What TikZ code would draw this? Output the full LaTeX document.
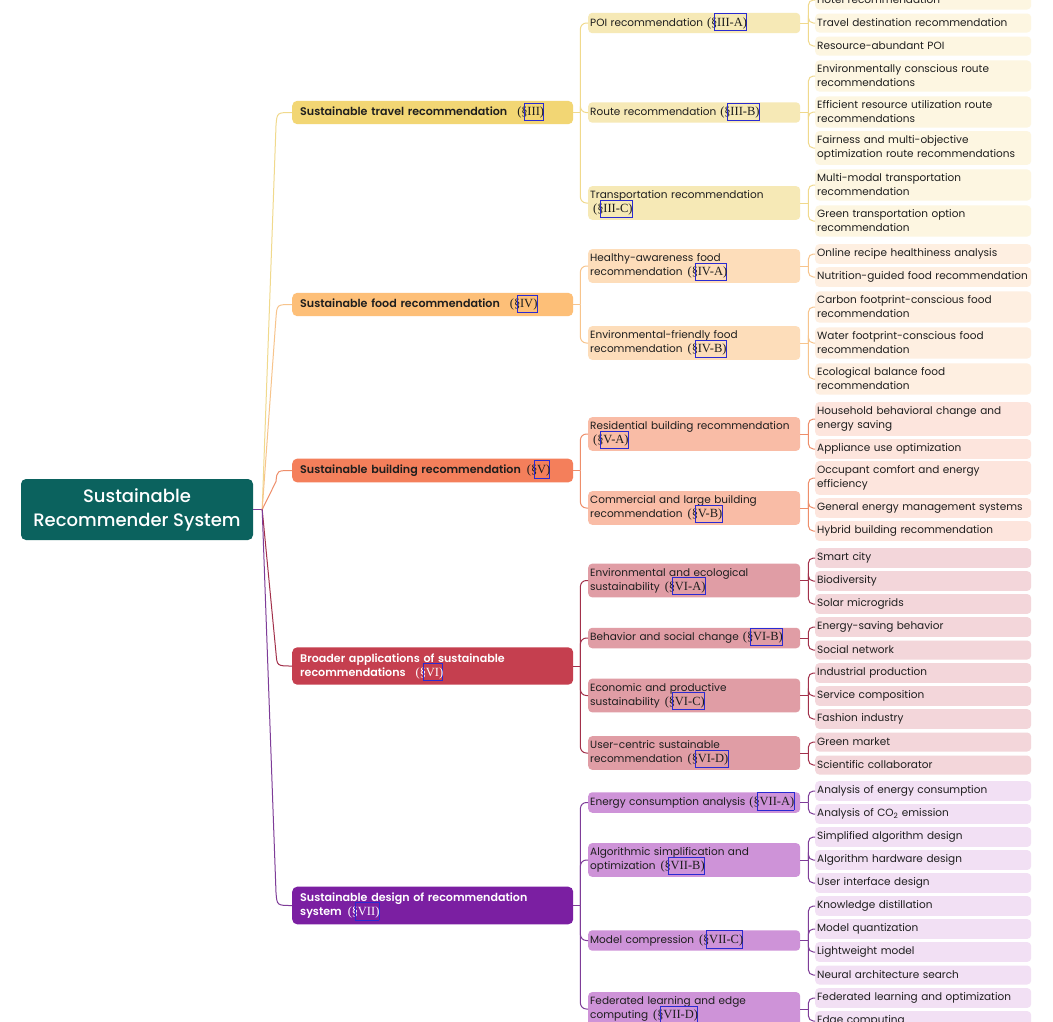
\documentclass[tikz,border=0pt]{standalone}
\usepackage{fontspec}
\usetikzlibrary{calc}
\setmainfont{Poppins}
\newfontfamily\secfont{Liberation Serif}
\IfFontExistsTF{Poppins Medium}{\newfontfamily\medfont{Poppins Medium}}{\newfontfamily\medfont{Poppins}}
\IfFontExistsTF{Poppins SemiBold}{\newfontfamily\semifont{Poppins SemiBold}}{\newfontfamily\semifont{Poppins}[FakeBold=1.5]}
\definecolor{txt}{HTML}{1E1E1E}
\definecolor{linkblue}{HTML}{2A2AD2}
\definecolor{rootc}{HTML}{0B625E}
\definecolor{travA}{HTML}{F2D674}\definecolor{travB}{HTML}{F6E9B6}\definecolor{travC}{HTML}{FDF6E1}\definecolor{travL}{HTML}{F0D98C}
\definecolor{foodA}{HTML}{FDBF78}\definecolor{foodB}{HTML}{FDDDBA}\definecolor{foodC}{HTML}{FEEFE1}\definecolor{foodL}{HTML}{F7C48C}
\definecolor{bldA}{HTML}{F47F5B}\definecolor{bldB}{HTML}{F9BCA6}\definecolor{bldC}{HTML}{FDE5DD}\definecolor{bldL}{HTML}{EE8E6A}
\definecolor{brdA}{HTML}{C53F4F}\definecolor{brdB}{HTML}{E09DA5}\definecolor{brdC}{HTML}{F3D6DA}\definecolor{brdL}{HTML}{A2304A}
\definecolor{desA}{HTML}{7B1FA2}\definecolor{desB}{HTML}{CE93D8}\definecolor{desC}{HTML}{F2E0F4}\definecolor{desL}{HTML}{7E3C98}
\newsavebox\srefbox
\newcommand\secref[1]{{\fontsize{12.5}{14}\secfont(\S\kern-0.27em%
  \sbox\srefbox{\kern0.25em#1)}%
  \textcolor{linkblue}{\smash{\rlap{\vrule width0.8pt height13pt depth5pt\kern-0.8pt\rlap{\vrule width\wd\srefbox height13pt depth-12.2pt}\rlap{\vrule width\wd\srefbox height-4.2pt depth5pt}\kern\wd\srefbox\kern-0.8pt\vrule width0.8pt height13pt depth5pt}}}%
  \usebox\srefbox}}
\newcommand\leaffont{\fontsize{10.5}{14}\selectfont}
\tikzset{
  lthree/.style={anchor=west, rounded corners=4pt, text width=212pt, inner xsep=2pt, inner ysep=4.5pt, minimum height=19pt, align=left, font=\leaffont, text=txt},
  ltwo/.style={anchor=west, rounded corners=4pt, text width=208pt, inner xsep=2pt, inner ysep=4.5pt, minimum height=19pt, align=left, font=\leaffont, text=txt},
  lone/.style={anchor=west, rounded corners=5pt, text width=265pt, inner xsep=8pt, inner ysep=6pt, minimum height=23pt, align=left, font=\semifont\fontsize{11.1}{14}\selectfont, text=txt},
  rootbox/.style={rounded corners=5pt, fill=rootc, minimum width=232pt, minimum height=61pt, align=center, text=white, font=\medfont\fontsize{18}{24}\selectfont},
  conn/.style={line width=1pt},
  br/.style={conn, rounded corners=6pt},
  bl/.style={conn, rounded corners=5pt},
}
\newcommand\rootlink[3]{\draw[conn,#1] (h0) -- ($(#2.west)+(-16,#3)$) .. controls ($(#2.west)+(-15,0)$) .. (#2.west);}
\begin{document}
\begin{tikzpicture}[x=1pt,y=-1pt]
\useasboundingbox (0,0) rectangle (1053,1021);
\clip (0,0) rectangle (1053,1021);
\fill[white] (0,0) rectangle (1053,1021);
% root
\node[rootbox] (root) at (137,509.5) {Sustainable\\Recommender System};
% level 1
\node[lone, fill=travA] (travel) at (292,112.5) {Sustainable travel recommendation\hspace{10pt}\secref{III}};
\node[lone, fill=foodA] (food) at (292,304.5) {Sustainable food recommendation\hspace{10pt}\secref{IV}};
\node[lone, fill=bldA] (building) at (292,470.5) {Sustainable building recommendation\hspace{6pt}\secref{V}};
\node[lone, fill=brdA, text=white] (broader) at (292,666) {Broader applications of sustainable\\recommendations\hspace{10pt}\secref{VI}};
\node[lone, fill=desA, text=white] (design) at (292,905.5) {Sustainable design of recommendation\\system\hspace{6pt}\secref{VII}};
% level 2
\node[ltwo, fill=travB] (poi) at (588,23) {POI recommendation\hspace{4pt}\secref{III-A}};
\node[ltwo, fill=travB] (route) at (588,112.5) {Route recommendation\hspace{4pt}\secref{III-B}};
\node[ltwo, fill=travB] (transport) at (588,203) {Transportation recommendation\\\hspace*{3pt}\secref{III-C}};
\node[ltwo, fill=foodB] (healthy) at (588,266) {Healthy-awareness food\\recommendation\hspace{5pt}\secref{IV-A}};
\node[ltwo, fill=foodB] (envfood) at (588,343) {Environmental-friendly food\\recommendation\hspace{5pt}\secref{IV-B}};
\node[ltwo, fill=bldB] (resid) at (588,434) {Residential building recommendation\\\hspace*{3pt}\secref{V-A}};
\node[ltwo, fill=bldB] (commer) at (588,508) {Commercial and large building\\recommendation\hspace{5pt}\secref{V-B}};
\node[ltwo, fill=brdB] (enveco) at (588,580.5) {Environmental and ecological\\sustainability\hspace{5pt}\secref{VI-A}};
\node[ltwo, fill=brdB] (behav) at (588,638) {Behavior and social change\hspace{4pt}\secref{VI-B}};
\node[ltwo, fill=brdB] (econ) at (588,695.5) {Economic and productive\\sustainability\hspace{5pt}\secref{VI-C}};
\node[ltwo, fill=brdB] (usercen) at (588,753) {User-centric sustainable\\recommendation\hspace{5pt}\secref{VI-D}};
\node[ltwo, fill=desB] (energy) at (588,802.5) {Energy consumption analysis\hspace{4pt}\secref{VII-A}};
\node[ltwo, fill=desB] (algo) at (588,860) {Algorithmic simplification and\\optimization\hspace{5pt}\secref{VII-B}};
\node[ltwo, fill=desB] (modelc) at (588,940.5) {Model compression\hspace{5pt}\secref{VII-C}};
\node[ltwo, fill=desB] (feder) at (588,1009) {Federated learning and edge\\computing\hspace{5pt}\secref{VII-D}};
% level 3 travel
\node[lthree, fill=travC] (t1) at (815,0) {Hotel recommendation};
\node[lthree, fill=travC] (t2) at (815,23) {Travel destination recommendation};
\node[lthree, fill=travC] (t3) at (815,46) {Resource-abundant POI};
\node[lthree, fill=travC] (t4) at (815,76) {Environmentally conscious route\\recommendations};
\node[lthree, fill=travC] (t5) at (815,112) {Efficient resource utilization route\\recommendations};
\node[lthree, fill=travC] (t6) at (815,148) {Fairness and multi-objective\\optimization route recommendations};
\node[lthree, fill=travC] (t7) at (815,185) {Multi-modal transportation\\recommendation};
\node[lthree, fill=travC] (t8) at (815,221) {Green transportation option\\recommendation};
% food
\node[lthree, fill=foodC] (f1) at (815,254) {Online recipe healthiness analysis};
\node[lthree, fill=foodC] (f2) at (815,277) {Nutrition-guided food recommendation};
\node[lthree, fill=foodC] (f3) at (815,307) {Carbon footprint-conscious food\\recommendation};
\node[lthree, fill=foodC] (f4) at (815,343) {Water footprint-conscious food\\recommendation};
\node[lthree, fill=foodC] (f5) at (815,379) {Ecological balance food\\recommendation};
% building
\node[lthree, fill=bldC] (b1) at (815,419) {Household behavioral change and\\energy saving};
\node[lthree, fill=bldC] (b2) at (815,449) {Appliance use optimization};
\node[lthree, fill=bldC] (b3) at (815,478) {Occupant comfort and energy\\efficiency};
\node[lthree, fill=bldC] (b4) at (815,508) {General energy management systems};
\node[lthree, fill=bldC] (b5) at (815,531) {Hybrid building recommendation};
% broader
\node[lthree, fill=brdC] (r1) at (815,558) {Smart city};
\node[lthree, fill=brdC] (r2) at (815,581) {Biodiversity};
\node[lthree, fill=brdC] (r3) at (815,604) {Solar microgrids};
\node[lthree, fill=brdC] (r4) at (815,627) {Energy-saving behavior};
\node[lthree, fill=brdC] (r5) at (815,650) {Social network};
\node[lthree, fill=brdC] (r6) at (815,673) {Industrial production};
\node[lthree, fill=brdC] (r7) at (815,696) {Service composition};
\node[lthree, fill=brdC] (r8) at (815,719) {Fashion industry};
\node[lthree, fill=brdC] (r9) at (815,742) {Green market};
\node[lthree, fill=brdC] (r10) at (815,765) {Scientific collaborator};
% design
\node[lthree, fill=desC] (d1) at (815,791) {Analysis of energy consumption};
\node[lthree, fill=desC] (d2) at (815,814) {Analysis of CO\textsubscript{2} emission};
\node[lthree, fill=desC] (d3) at (815,837) {Simplified algorithm design};
\node[lthree, fill=desC] (d4) at (815,860) {Algorithm hardware design};
\node[lthree, fill=desC] (d5) at (815,883) {User interface design};
\node[lthree, fill=desC] (d6) at (815,906) {Knowledge distillation};
\node[lthree, fill=desC] (d7) at (815,929) {Model quantization};
\node[lthree, fill=desC] (d8) at (815,952) {Lightweight model};
\node[lthree, fill=desC] (d9) at (815,975) {Neural architecture search};
\node[lthree, fill=desC] (d10) at (815,998) {Federated learning and optimization};
\node[lthree, fill=desC] (d11) at (815,1021) {Edge computing};
% root connectors
\coordinate (h0) at ($(root.east)+(9,0)$);
\draw[conn, desL] (root.east) -- (h0);
\rootlink{travL}{travel}{13}
\rootlink{foodL}{food}{13}
\rootlink{bldL}{building}{11}
\rootlink{brdL}{broader}{-13}
\rootlink{desL}{design}{-13}
% level1 -> level2
\foreach \p/\c/\kids in {travel/travL/{poi,route,transport}, food/foodL/{healthy,envfood}, building/bldL/{resid,commer}, broader/brdL/{enveco,behav,econ,usercen}, design/desL/{energy,algo,modelc,feder}}{
  \coordinate (hub-\p) at ($(\p.east)+(7,0)$);
  \draw[conn, \c] (\p.east) -- (hub-\p);
  \foreach \k in \kids { \draw[br, \c] (hub-\p) |- (\k.west); }
}
% level2 -> level3
\foreach \p/\c/\kids in {poi/travL/{t1,t2,t3}, route/travL/{t4,t5,t6}, transport/travL/{t7,t8}, healthy/foodL/{f1,f2}, envfood/foodL/{f3,f4,f5}, resid/bldL/{b1,b2}, commer/bldL/{b3,b4,b5}, enveco/brdL/{r1,r2,r3}, behav/brdL/{r4,r5}, econ/brdL/{r6,r7,r8}, usercen/brdL/{r9,r10}, energy/desL/{d1,d2}, algo/desL/{d3,d4,d5}, modelc/desL/{d6,d7,d8,d9}, feder/desL/{d10,d11}}{
  \coordinate (hub-\p) at ($(\p.east)+(8,0)$);
  \draw[conn, \c] (\p.east) -- (hub-\p);
  \foreach \k in \kids { \draw[bl, \c] (hub-\p) |- (\k.west); }
}
\end{tikzpicture}
\end{document}
